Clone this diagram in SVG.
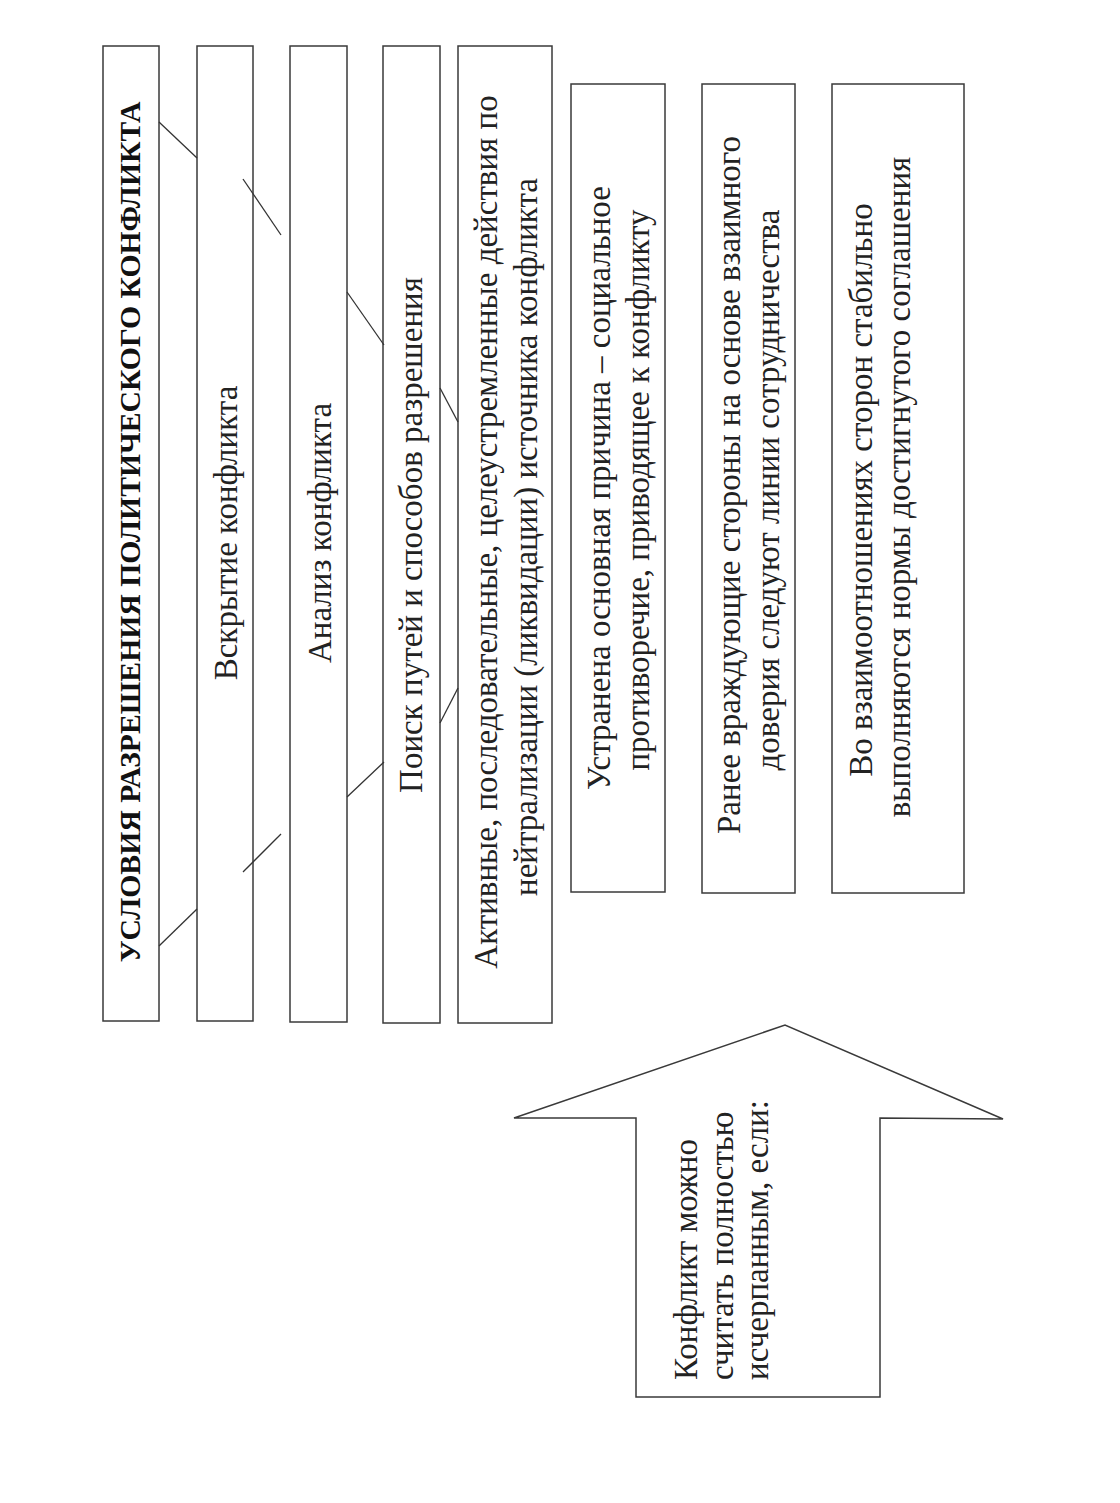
<svg xmlns="http://www.w3.org/2000/svg" width="1120" height="1503" viewBox="0 0 1120 1503">
<style>
.box{fill:#fff;stroke:#3a3a3a;stroke-width:1.5}
.t{font-family:"Liberation Serif","Times New Roman",serif;font-size:33px;fill:#222;text-anchor:middle}
.ts{font-family:"Liberation Serif","Times New Roman",serif;font-size:33px;fill:#222;text-anchor:start}
.title{font-family:"Liberation Serif","Times New Roman",serif;font-size:29.7px;font-weight:bold;fill:#111;text-anchor:middle}
.c{stroke:#333;stroke-width:1.3;fill:none}
</style>
<rect width="1120" height="1503" fill="#fff"/>
<g id="title">
<rect class="box" x="103" y="46" width="56" height="975"/>
<text class="title" transform="translate(140,532) rotate(-90)">УСЛОВИЯ РАЗРЕШЕНИЯ ПОЛИТИЧЕСКОГО КОНФЛИКТА</text>
</g>
<g id="n1">
<rect class="box" x="197" y="46" width="56" height="975"/>
<text class="t" transform="translate(237,533) rotate(-90)">Вскрытие конфликта</text>
</g>
<g id="n2">
<rect class="box" x="290" y="46" width="57" height="976"/>
<text class="t" transform="translate(331,533) rotate(-90)">Анализ конфликта</text>
</g>
<g id="n3">
<rect class="box" x="383" y="46" width="57" height="977"/>
<text class="t" transform="translate(422,535) rotate(-90)">Поиск путей и способов разрешения</text>
</g>
<g id="n4">
<rect class="box" x="458" y="46" width="94" height="977"/>
<text class="t" transform="translate(497,532) rotate(-90)">Активные, последовательные, целеустремленные действия по</text>
<text class="t" transform="translate(537,537) rotate(-90)">нейтрализации (ликвидации) источника конфликта</text>
</g>
<g id="r1">
<rect class="box" x="571" y="84" width="94" height="808"/>
<text class="t" transform="translate(610,488) rotate(-90)">Устранена основная причина – социальное</text>
<text class="t" transform="translate(649,490) rotate(-90)">противоречие, приводящее к конфликту</text>
</g>
<g id="r2">
<rect class="box" x="702" y="84" width="93" height="809"/>
<text class="t" transform="translate(740,485) rotate(-90)">Ранее враждующие стороны на основе взаимного</text>
<text class="t" transform="translate(779,490) rotate(-90)">доверия следуют линии сотрудничества</text>
</g>
<g id="r3">
<rect class="box" x="832" y="84" width="132" height="809"/>
<text class="t" transform="translate(872,490) rotate(-90)">Во взаимоотношениях сторон стабильно</text>
<text class="t" transform="translate(910,487) rotate(-90)">выполняются нормы достигнутого соглашения</text>
</g>
<g id="arrow">
<polygon class="box" points="636,1397 636,1118 514,1118 785,1025 1003,1119 880,1118 880,1397"/>
<text class="ts" transform="translate(697,1380) rotate(-90)">Конфликт можно</text>
<text class="ts" transform="translate(733,1380) rotate(-90)">считать полностью</text>
<text class="ts" transform="translate(768,1380) rotate(-90)">исчерпанным, если:</text>
</g>
<g id="connectors">
<line class="c" x1="159" y1="122" x2="197" y2="158"/>
<line class="c" x1="243" y1="179" x2="281" y2="235"/>
<line class="c" x1="347" y1="292" x2="384" y2="345"/>
<line class="c" x1="440" y1="388" x2="458" y2="422"/>
<line class="c" x1="159" y1="946" x2="197" y2="909"/>
<line class="c" x1="243" y1="872" x2="281" y2="834"/>
<line class="c" x1="347" y1="797" x2="384" y2="762"/>
<line class="c" x1="440" y1="723" x2="458" y2="688"/>
</g>
</svg>
